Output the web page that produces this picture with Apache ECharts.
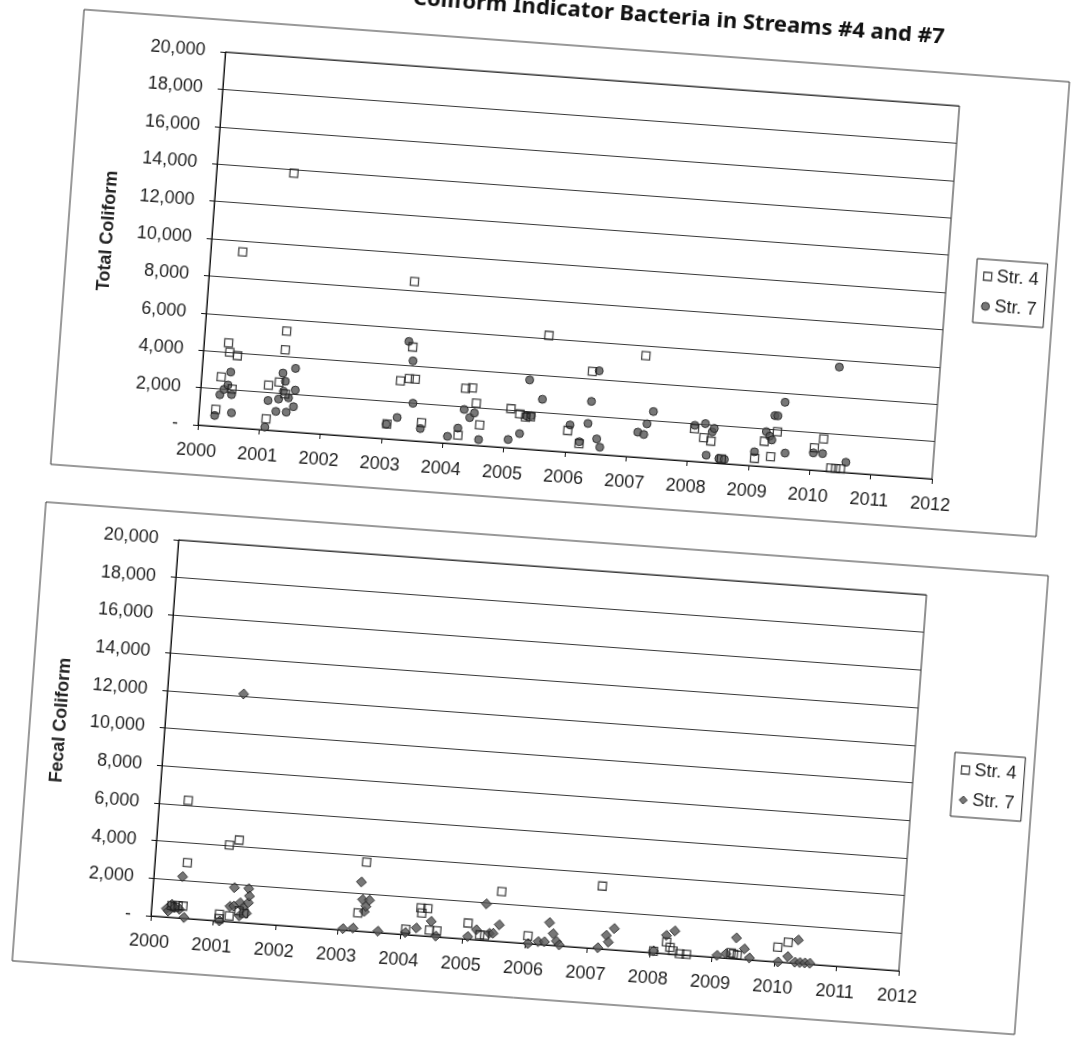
<!DOCTYPE html>
<html>
<head>
<meta charset="utf-8">
<script src="https://cdn.jsdelivr.net/npm/echarts@6/dist/echarts.min.js"></script>
<style>
  html, body { margin: 0; padding: 0; background: #fff; overflow: hidden; }
  #c { width: 1072px; height: 1038px; transform: rotate(4.2deg); transform-origin: 536px 519px; }
</style>
</head>
<body>
<div id="c"></div>
<script>
// ---- data: [decimal year, count] ----
const yearTicks = [2000, 2012, 1];
const valueTicks = [0, 20000, 2000];

const total4 = [
  [2000.27, 900], [2000.32, 2650], [2000.40, 4500], [2000.43, 4000], [2000.51, 2050],
  [2000.52, 9400], [2000.56, 3850],
  [2001.10, 2400], [2001.10, 600], [2001.26, 13800], [2001.27, 2600], [2001.33, 5350],
  [2001.33, 4350], [2001.38, 2000],
  [2003.07, 800], [2003.24, 3150], [2003.38, 3300], [2003.48, 3300], [2003.35, 8500],
  [2003.40, 5000], [2003.63, 1000],
  [2004.24, 470], [2004.31, 3000], [2004.42, 3050], [2004.50, 2250], [2004.58, 1100],
  [2005.07, 2100], [2005.22, 1850], [2005.32, 1700], [2005.40, 1750], [2005.60, 6150],
  [2006.02, 1150], [2006.22, 500], [2006.35, 4400],
  [2007.20, 5450],
  [2008.08, 1750], [2008.24, 1300], [2008.36, 1150], [2008.55, 240],
  [2009.09, 400], [2009.23, 1350], [2009.35, 550], [2009.43, 1900],
  [2010.05, 1200], [2010.19, 1700], [2010.34, 180], [2010.42, 180], [2010.50, 180]
];

const total7 = [
  [2000.26, 570], [2000.32, 1700], [2000.38, 2000], [2000.44, 2250], [2000.47, 2950],
  [2000.51, 1750], [2000.53, 780],
  [2001.09, 150], [2001.11, 1580], [2001.25, 1030], [2001.28, 1700], [2001.32, 3100],
  [2001.35, 2130], [2001.37, 2670], [2001.42, 1030], [2001.44, 1800], [2001.52, 3400],
  [2001.53, 1350], [2001.54, 2240],
  [2003.06, 780], [2003.23, 1180], [2003.33, 5280], [2003.42, 4260], [2003.47, 2000], [2003.62, 680],
  [2004.07, 370], [2004.23, 850], [2004.31, 1870], [2004.41, 1460], [2004.48, 1720], [2004.58, 320],
  [2005.06, 440], [2005.24, 800], [2005.33, 1780], [2005.41, 1800], [2005.34, 3700], [2005.57, 2720],
  [2006.05, 1460], [2006.22, 600], [2006.34, 1610], [2006.37, 2800], [2006.46, 4460],
  [2006.50, 820], [2006.56, 390],
  [2007.16, 1340], [2007.26, 1240], [2007.30, 1820], [2007.39, 2500],
  [2008.08, 1930], [2008.25, 2060], [2008.30, 380], [2008.37, 1650], [2008.40, 1840],
  [2008.51, 250], [2008.60, 230],
  [2009.08, 750], [2009.25, 1870], [2009.31, 1640], [2009.35, 1450], [2009.37, 2760],
  [2009.42, 2760], [2009.52, 3510], [2009.58, 800],
  [2010.04, 920], [2010.19, 920], [2010.36, 5600], [2010.58, 550]
];

const fecal4 = [
  [2000.32, 620], [2000.37, 550], [2000.42, 650], [2000.46, 6250], [2000.50, 650], [2000.52, 2950],
  [2001.09, 350], [2001.09, 120], [2001.25, 300], [2001.17, 4050], [2001.32, 4350],
  [2001.40, 600], [2001.48, 500],
  [2003.30, 960], [2003.38, 3680],
  [2004.08, 290], [2004.30, 1470], [2004.32, 1200], [2004.41, 1470], [2004.46, 320], [2004.58, 320],
  [2005.07, 850], [2005.27, 270], [2005.35, 270], [2005.57, 2650],
  [2006.04, 400],
  [2007.17, 3330],
  [2008.06, 90], [2008.26, 620], [2008.32, 350], [2008.37, 180], [2008.48, 50], [2008.59, 50],
  [2009.30, 300], [2009.34, 250], [2009.40, 200],
  [2010.04, 780], [2010.20, 1080]
];

const fecal7 = [
  [2000.24, 440], [2000.27, 320], [2000.32, 690], [2000.37, 530], [2000.45, 460],
  [2000.46, 2200], [2000.53, 40],
  [2001.10, 0], [2001.22, 12100], [2001.25, 810], [2001.30, 1820], [2001.31, 840],
  [2001.41, 1040], [2001.41, 340], [2001.46, 780], [2001.52, 510], [2001.53, 1820],
  [2001.54, 1080], [2001.55, 1430],
  [2003.08, 70], [2003.24, 140], [2003.32, 2610], [2003.36, 1680], [2003.40, 1060],
  [2003.42, 1340], [2003.47, 1680], [2003.64, 70],
  [2004.08, 110], [2004.25, 390], [2004.48, 800], [2004.57, 40],
  [2005.08, 140], [2005.21, 530], [2005.34, 1940], [2005.42, 390], [2005.48, 410], [2005.57, 880],
  [2006.05, 0], [2006.21, 140], [2006.31, 160], [2006.37, 1190], [2006.44, 620],
  [2006.50, 230], [2006.55, 50],
  [2007.17, 50], [2007.29, 740], [2007.33, 390], [2007.41, 1130],
  [2008.06, 100], [2008.25, 970], [2008.38, 1240],
  [2009.08, 110], [2009.22, 230], [2009.37, 1110], [2009.51, 560], [2009.60, 100],
  [2010.06, 0], [2010.21, 320], [2010.36, 1240], [2010.33, 50], [2010.41, 50],
  [2010.49, 50], [2010.57, 50]
];

const titleText = 'Coliform Indicator Bacteria in Streams #4 and #7';
const axisNames = ['Total Coliform', 'Fecal Coliform'];
const seriesNames = ['Str. 4', 'Str. 7'];

// ---- styles ----
const FONT = 'Liberation Sans, Arial, sans-serif';
const INK = '#222';
const hollow = { color: 'rgba(255,255,255,0)', borderColor: '#1a1a1a', borderWidth: 1.3 };
const dark = { color: '#555', borderColor: '#1a1a1a', borderWidth: 1 };

function yFmt(v) { return v === 0 ? '-' : v.toLocaleString('en-US'); }

const grids = [
  { left: 192, top: 76, width: 736, height: 374 },
  { left: 181, top: 566, width: 750, height: 377 }
];

function xAxis(i) {
  return {
    type: 'value', gridIndex: i, min: yearTicks[0], max: yearTicks[1], interval: yearTicks[2],
    axisLine: { show: true, lineStyle: { color: '#111', width: 1 } },
    axisTick: { show: true, inside: false, length: 5, lineStyle: { color: '#111' } },
    axisLabel: { margin: 17, fontFamily: FONT, fontSize: 18, color: INK, formatter: v => String(v) },
    splitLine: { show: false }
  };
}
function yAxis(i) {
  return {
    type: 'value', gridIndex: i, min: valueTicks[0], max: valueTicks[1], interval: valueTicks[2],
    name: axisNames[i], nameLocation: 'middle', nameGap: 95, nameRotate: 90,
    nameTextStyle: { fontFamily: FONT, fontSize: 18, fontWeight: 'bold', color: INK },
    axisLine: { show: true, lineStyle: { color: '#111', width: 1 } },
    axisTick: { show: true, inside: false, length: 5, lineStyle: { color: '#111' } },
    axisLabel: { margin: 20, fontFamily: FONT, fontSize: 18, color: INK, formatter: yFmt },
    splitLine: { show: true, lineStyle: { color: '#3a3a3a', width: 1 } }
  };
}
function legend(left, top, icon7) {
  return {
    orient: 'vertical', left: left, top: top, selectedMode: false,
    borderColor: '#222', borderWidth: 1, padding: [8, 8, 8, 7], itemGap: 12,
    itemWidth: 8, itemHeight: 8,
    textStyle: { fontFamily: FONT, fontSize: 18, color: INK },
    data: [
      { name: seriesNames[0], icon: 'rect', itemStyle: hollow },
      { name: seriesNames[1], icon: icon7, itemStyle: dark }
    ]
  };
}

const option = {
  animation: false,
  backgroundColor: '#fff',
  title: {
    text: titleText, right: 164, top: -2, padding: 0,
    textStyle: { fontFamily: 'Noto Sans, DejaVu Sans, sans-serif', fontSize: 22, fontWeight: 'bold', color: '#111' }
  },
  legend: [legend(957, 227, 'circle'), legend(971, 721, 'diamond')],
  grid: grids.map(g => Object.assign({ show: true, borderColor: '#222', borderWidth: 1, backgroundColor: 'transparent' }, g)),
  xAxis: [xAxis(0), xAxis(1)],
  yAxis: [yAxis(0), yAxis(1)],
  graphic: [
    { type: 'rect', z: -10, silent: true, shape: { x: 48, y: 44, width: 988, height: 456 },
      style: { fill: null, stroke: '#333', lineWidth: 1 } },
    { type: 'rect', z: -10, silent: true, shape: { x: 46, y: 538, width: 1005, height: 460 },
      style: { fill: null, stroke: '#333', lineWidth: 1 } }
  ],
  series: [
    { name: seriesNames[1], type: 'scatter', xAxisIndex: 0, yAxisIndex: 0, data: total7,
      symbol: 'circle', symbolSize: 8, itemStyle: dark },
    { name: seriesNames[0], type: 'scatter', xAxisIndex: 0, yAxisIndex: 0, data: total4,
      symbol: 'rect', symbolSize: 8, itemStyle: hollow },
    { name: seriesNames[1], type: 'scatter', xAxisIndex: 1, yAxisIndex: 1, data: fecal7,
      symbol: 'diamond', symbolSize: 10, itemStyle: dark },
    { name: seriesNames[0], type: 'scatter', xAxisIndex: 1, yAxisIndex: 1, data: fecal4,
      symbol: 'rect', symbolSize: 8, itemStyle: hollow }
  ]
};

const chart = echarts.init(document.getElementById('c'), null, { renderer: 'canvas' });
chart.setOption(option);
</script>
</body>
</html>
